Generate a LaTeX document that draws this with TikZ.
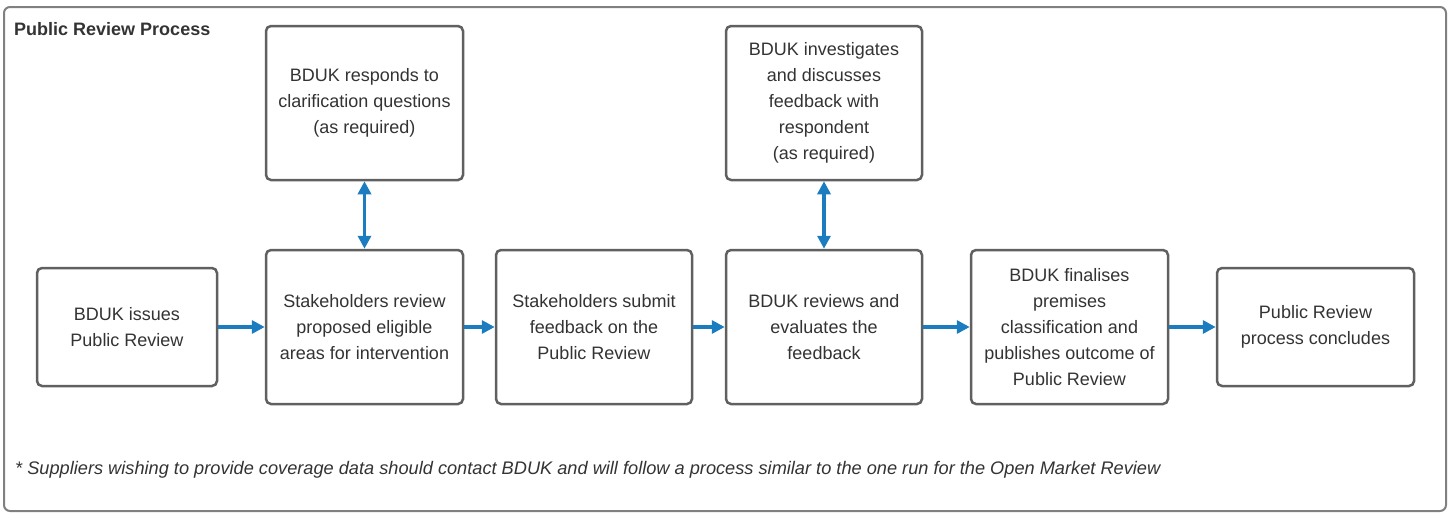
\documentclass[tikz,border=0pt]{standalone}
\usepackage{fontspec}
\setmainfont{Liberation Sans}
\usetikzlibrary{arrows.meta}
\definecolor{boxgray}{HTML}{606060}
\definecolor{txt}{HTML}{333333}
\definecolor{arrowblue}{HTML}{1B7DC0}
\tikzset{
  stepbox/.style={draw=boxgray, line width=2.5pt, rounded corners=5pt, fill=white,
    text=txt, align=center, font=\fontsize{18}{26}\selectfont, inner sep=0pt},
  flow/.style={draw=arrowblue, line width=3.5pt, -{Triangle[length=13pt,width=13pt]}},
  twoway/.style={draw=arrowblue, line width=3.5pt, {Triangle[length=13pt,width=13pt]}-{Triangle[length=13pt,width=13pt]}}
}
\begin{document}
\begin{tikzpicture}[x=1pt,y=-1pt]
\useasboundingbox (0,0) rectangle (1451,514);
\draw[draw=boxgray!80, line width=2pt, rounded corners=6pt] (4,7) rectangle (1446,511);
\node[anchor=base west, font=\bfseries\fontsize{18}{20}\selectfont, text=txt, inner sep=0pt] (title) at (14,35) {Public Review Process};
\node[stepbox, minimum width=180pt, minimum height=118pt] (a) at (127,327) {BDUK issues\\Public Review};
\node[stepbox, minimum width=197pt, minimum height=154pt] (b) at (364.5,327) {Stakeholders review\\proposed eligible\\areas for intervention};
\node[stepbox, minimum width=197pt, minimum height=154pt] (c) at (364.5,103) {BDUK responds to\\clarification questions\\(as required)};
\node[stepbox, minimum width=196pt, minimum height=154pt] (d) at (594,327) {Stakeholders submit\\feedback on the\\Public Review};
\node[stepbox, minimum width=196pt, minimum height=154pt] (e) at (824,327) {BDUK reviews and\\evaluates the\\feedback};
\node[stepbox, minimum width=196pt, minimum height=154pt] (f) at (824,103) {BDUK investigates\\and discusses\\feedback with\\respondent\\(as required)};
\node[stepbox, minimum width=197pt, minimum height=154pt] (g) at (1069.5,327) {BDUK finalises\\premises\\classification and\\publishes outcome of\\Public Review};
\node[stepbox, minimum width=197pt, minimum height=118pt] (h) at (1315.5,327) {Public Review\\process concludes};
\draw[flow] (a.east) -- (b.west);
\draw[flow] (b.east) -- (d.west);
\draw[flow] (d.east) -- (e.west);
\draw[flow] (e.east) -- (g.west);
\draw[flow] (g.east) -- (h.west);
\draw[twoway] (c.south) -- (b.north);
\draw[twoway] (f.south) -- (e.north);
\node[anchor=base west, font=\itshape\fontsize{18.2}{20}\selectfont, text=txt, inner sep=0pt] (note) at (15,474) {* Suppliers wishing to provide coverage data should contact BDUK and will follow a process similar to the one run for the Open Market Review};
\end{tikzpicture}
\end{document}
